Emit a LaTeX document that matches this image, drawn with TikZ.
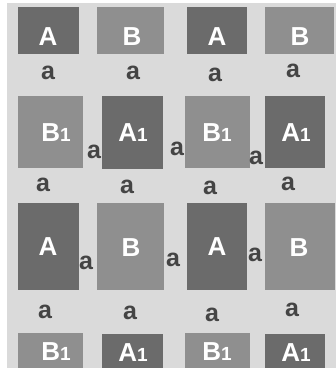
\documentclass[tikz,border=0pt]{standalone}
\usepackage{fontspec}
\setmainfont{Liberation Sans}
\definecolor{bgc}{HTML}{DADADA}
\definecolor{darkbox}{HTML}{6B6B6B}
\definecolor{lightbox}{HTML}{8F8F8F}
\definecolor{acol}{HTML}{444444}
\tikzset{
  dk/.style={fill=darkbox, draw=none, inner sep=0pt},
  lt/.style={fill=lightbox, draw=none, inner sep=0pt},
  lab/.style={text=white, font=\bfseries\fontsize{26}{26}\selectfont, inner sep=0pt},
  sm/.style={text=acol, font=\bfseries\fontsize{25}{25}\selectfont, inner sep=0pt},
}
\newcommand{\one}{{\fontsize{19}{19}\selectfont 1}}
\begin{document}
\begin{tikzpicture}[x=1pt,y=-1pt]
\useasboundingbox (0,0) rectangle (336,368);
\fill[white] (0,0) rectangle (336,368);
\fill[bgc] (7,3) rectangle (336,368);
% row 1
\node[dk, minimum width=61pt, minimum height=47pt] (r1a) at (48.5,30.5) {};
\node[lt, minimum width=67pt, minimum height=47pt] (r1b) at (130.5,30.5) {};
\node[dk, minimum width=60pt, minimum height=47pt] (r1c) at (217,30.5) {};
\node[lt, minimum width=69pt, minimum height=47pt] (r1d) at (299.5,30.5) {};
\node[lab] (t1a) at (48,37) {A};
\node[lab] (t1b) at (132,37) {B};
\node[lab] (t1c) at (217,37) {A};
\node[lab] (t1d) at (300,37) {B};
\node[sm] (a1a) at (48,73) {a};
\node[sm] (a1b) at (133,73) {a};
\node[sm] (a1c) at (215,75) {a};
\node[sm] (a1d) at (293,71) {a};
% row 2
\node[lt, minimum width=65pt, minimum height=72pt] (r2a) at (50.5,132) {};
\node[dk, minimum width=61pt, minimum height=73pt] (r2b) at (132.5,132.5) {};
\node[lt, minimum width=65pt, minimum height=72pt] (r2c) at (217.5,132) {};
\node[dk, minimum width=60pt, minimum height=72pt] (r2d) at (295,132) {};
\node[lab] (t2a) at (56,133) {B\one};
\node[lab] (t2b) at (133,133) {A\one};
\node[lab] (t2c) at (217,133) {B\one};
\node[lab] (t2d) at (296,133) {A\one};
\node[sm] (s2a) at (94,152) {a};
\node[sm] (s2b) at (177,149) {a};
\node[sm] (s2c) at (256,158) {a};
\node[sm] (a2a) at (43,185) {a};
\node[sm] (a2b) at (127,187) {a};
\node[sm] (a2c) at (210,188) {a};
\node[sm] (a2d) at (288,184) {a};
% row 3
\node[dk, minimum width=61pt, minimum height=87pt] (r3a) at (48.5,246.5) {};
\node[lt, minimum width=67pt, minimum height=87pt] (r3b) at (130.5,246.5) {};
\node[dk, minimum width=60pt, minimum height=87pt] (r3c) at (217,246.5) {};
\node[lt, minimum width=70pt, minimum height=87pt] (r3d) at (300,246.5) {};
\node[lab] (t3a) at (48,247) {A};
\node[lab] (t3b) at (131,248) {B};
\node[lab] (t3c) at (217,247) {A};
\node[lab] (t3d) at (299,248) {B};
\node[sm] (s3a) at (86,263) {a};
\node[sm] (s3b) at (173,260) {a};
\node[sm] (s3c) at (255,255) {a};
\node[sm] (a3a) at (45,312) {a};
\node[sm] (a3b) at (130,313) {a};
\node[sm] (a3c) at (212,315) {a};
\node[sm] (a3d) at (292,310) {a};
% row 4
\node[lt, minimum width=65pt, minimum height=35pt] (r4a) at (50.5,350.5) {};
\node[dk, minimum width=61pt, minimum height=35pt] (r4b) at (132.5,351.5) {};
\node[lt, minimum width=65pt, minimum height=35pt] (r4c) at (217.5,350.5) {};
\node[dk, minimum width=60pt, minimum height=35pt] (r4d) at (295,351.5) {};
\node[lab] (t4a) at (56,352) {B\one};
\node[lab] (t4b) at (133,353) {A\one};
\node[lab] (t4c) at (217,352) {B\one};
\node[lab] (t4d) at (296,353) {A\one};
\end{tikzpicture}
\end{document}
